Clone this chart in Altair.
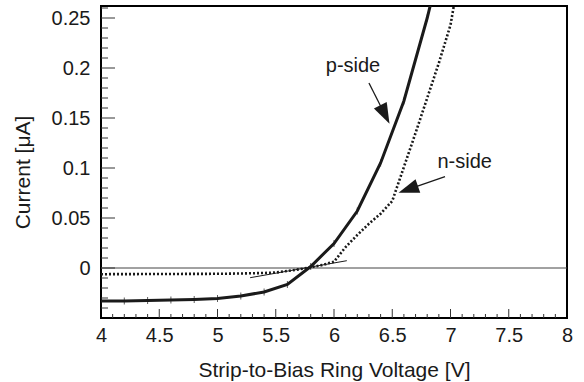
import altair as alt
import pandas as pd

# ---- data ----
p_volt = [4.0, 4.2, 4.4, 4.6, 4.8, 5.0, 5.2, 5.4, 5.6, 5.8, 6.0, 6.2, 6.4, 6.6, 6.8, 7.0]
p_curr = [-0.033, -0.033, -0.0325, -0.032, -0.0315, -0.0305, -0.028, -0.024, -0.0165,
          0.0015, 0.0245, 0.057, 0.105, 0.167, 0.25, 0.345]

n_volt = [4.0, 4.5, 5.0, 5.2, 5.4, 5.5, 5.6, 5.7, 5.8, 5.9, 6.0, 6.1, 6.2, 6.3, 6.4,
          6.5, 6.6, 6.7, 6.8, 6.9, 7.0, 7.1]
n_curr = [-0.0062, -0.006, -0.0058, -0.0055, -0.005, -0.0045, -0.003, -0.0013, 0.0007,
          0.003, 0.0063, 0.021, 0.033, 0.0443, 0.0543, 0.067, 0.101, 0.135, 0.17,
          0.205, 0.243, 0.31]

fit_volt = [5.28, 6.11]
fit_curr = [-0.0097, 0.0073]

x_major = [4, 4.5, 5, 5.5, 6, 6.5, 7, 7.5, 8]
y_labels = [0, 0.05, 0.1, 0.15, 0.2, 0.25]
y_major = [-0.05, 0, 0.05, 0.1, 0.15, 0.2, 0.25]

label_text = ["p-side", "n-side"]
label_volt = [6.163, 7.122]
label_curr = [0.196, 0.0997]
arrow_from_volt = [6.300, 6.953]
arrow_from_curr = [0.185, 0.0913]
arrow_to_volt = [6.464, 6.581]
arrow_to_curr = [0.1473, 0.0763]
head_volt = [6.437, 6.637]
head_curr = [0.1535, 0.0786]
head_angle = [153.3, 250.9]

x_minor = [round(4 + i * 0.1, 2) for i in range(41)]
x_minor = [v for v in x_minor if all(abs(v - m) > 1e-6 for m in x_major)]
y_minor = [round(-0.05 + i * 0.01, 3) for i in range(32)]
y_minor = [v for v in y_minor if all(abs(v - m) > 1e-6 for m in y_major) and v <= 0.262]

FONT = "Liberation Sans"
INK = "#1a1a1a"
W, H = 466, 312
LBL = 20
TTL = 21

xs = alt.Scale(domain=[4, 8], nice=False, zero=False)
ys = alt.Scale(domain=[-0.05, 0.262], nice=False, zero=False)

X = alt.X("V:Q", scale=xs, axis=alt.Axis(
    values=x_major, format="~g", ticks=False, tickSize=0, domain=False, grid=False,
    labelFont=FONT, labelFontSize=LBL, labelColor=INK, labelBaseline="alphabetic",
    labelPadding=23.5, labelFlush=False,
    title="Strip-to-Bias Ring Voltage [V]", titleFont=FONT, titleFontSize=TTL,
    titleFontWeight="normal", titleColor=INK, titleBaseline="alphabetic", titleY=58))
Y = alt.Y("I:Q", scale=ys, axis=alt.Axis(
    values=y_labels, format="~g", ticks=False, tickSize=0, domain=False, grid=False,
    labelFont=FONT, labelFontSize=LBL, labelColor=INK, labelPadding=11, labelFlush=False,
    title="Current [μA]", titleFont=FONT, titleFontSize=TTL, titleFontWeight="normal",
    titleColor=INK, titleBaseline="alphabetic", titleAlign="center", titleAngle=-90,
    titleX=-72, titleY=166))

p_df = pd.DataFrame({"V": p_volt, "I": p_curr})
n_df = pd.DataFrame({"V": n_volt, "I": n_curr})
fit_df = pd.DataFrame({"V": fit_volt, "I": fit_curr})
zero_df = pd.DataFrame({"V": [4], "V2": [8], "I": [0]})
ann_df = pd.DataFrame({"V": label_volt, "I": label_curr, "t": label_text})
arr_df = pd.DataFrame({"V": arrow_from_volt, "I": arrow_from_curr,
                       "V2": arrow_to_volt, "I2": arrow_to_curr})
head_df = pd.DataFrame({"V": head_volt, "I": head_curr, "a": head_angle})

zero = alt.Chart(zero_df).mark_rule(color="#444", strokeWidth=1).encode(
    x=X, x2="V2:Q", y=Y)

xt_major = alt.Chart(pd.DataFrame({"V": x_major[1:-1]})).mark_rule(
    color="#333", strokeWidth=1).encode(x=X, y=alt.value(H), y2=alt.value(H - 9))
xt_minor = alt.Chart(pd.DataFrame({"V": x_minor})).mark_rule(
    color="#333", strokeWidth=1).encode(x=X, y=alt.value(H), y2=alt.value(H - 4))
yt_major = alt.Chart(pd.DataFrame({"I": y_major[1:]})).mark_rule(
    color="#333", strokeWidth=1).encode(y=Y, x=alt.value(0), x2=alt.value(14))
yt_minor = alt.Chart(pd.DataFrame({"I": y_minor})).mark_rule(
    color="#333", strokeWidth=1).encode(y=Y, x=alt.value(0), x2=alt.value(7))

fit = alt.Chart(fit_df).mark_line(color=INK, strokeWidth=1).encode(x=X, y=Y)

n_line = alt.Chart(n_df).mark_line(color=INK, strokeWidth=2.6, strokeDash=[2, 2],
                                   clip=True).encode(x=X, y=Y)
p_line = alt.Chart(p_df).mark_line(color=INK, strokeWidth=3, clip=True).encode(x=X, y=Y)
p_pts = alt.Chart(p_df[p_df["I"] < 0.26]).mark_tick(
    color=INK, orient="vertical", size=7, thickness=1, clip=True).encode(x=X, y=Y)

labels = alt.Chart(ann_df).mark_text(font=FONT, fontSize=LBL, color=INK, align="center",
                                     baseline="alphabetic").encode(x=X, y=Y, text="t:N")
shafts = alt.Chart(arr_df).mark_rule(color=INK, strokeWidth=1.3).encode(
    x=X, y=Y, x2="V2:Q", y2="I2:Q")
heads = alt.Chart(head_df).mark_point(
    shape="M0,-1L0.7,1L-0.7,1Z", filled=True, size=420, color=INK, opacity=1,
    strokeWidth=0).encode(x=X, y=Y, angle=alt.Angle("a:Q", scale=None))

chart = alt.layer(
    zero, xt_minor, xt_major, yt_minor, yt_major, fit, n_line, p_line, p_pts,
    labels, shafts, heads
).properties(
    width=W, height=H,
    autosize=alt.AutoSizeParams(type="none"),
    padding={"left": 101, "top": 6, "right": 17, "bottom": 64},
    background="white",
).configure_view(stroke="black", strokeWidth=2)

chart.save("out.html", embed_options={"renderer": "svg", "actions": False})
